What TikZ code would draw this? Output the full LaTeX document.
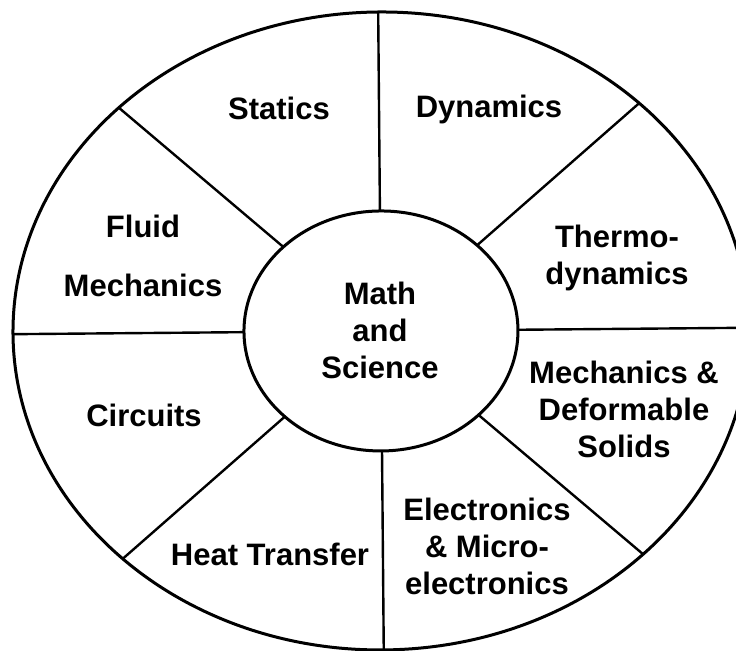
\documentclass[tikz,border=0pt]{standalone}
\usepackage{fontspec}
\setmainfont{Liberation Sans}
\usetikzlibrary{positioning}

\begin{document}
\begin{tikzpicture}[x=0.5pt, y=-0.5pt,
    field/.style={font=\fontsize{15.5}{18.5}\selectfont\bfseries, align=center, anchor=base, inner sep=0pt},
    spoke/.style={line width=1.2pt},
    rim/.style={line width=1.5pt}]
    \useasboundingbox (0,0) rectangle (736,651);
    \clip (0,0) rectangle (736,651);

    % Wheel (scan sits a little askew)
    \coordinate (hub) at (381,331);
    \begin{scope}[rotate around={0.5:(hub)}]
        \draw[rim] (hub) ellipse [x radius=368, y radius=319];
        \draw[rim] (hub) ellipse [x radius=137, y radius=120];
        \foreach \a in {0,45,...,315}
            \draw[spoke] ([shift={(\a:137 and 120)}]hub) -- ([shift={(\a:368 and 319)}]hub);
    \end{scope}

    % Centre (base = last line)
    \node[field] (core) at (380,379) {Math\\and\\Science};

    % Subjects
    \node[field] (statics) at (279,120) {Statics};
    \node[field] (dynamics) at (489,118) {Dynamics};
    \node[field, font=\fontsize{15.5}{29.5}\selectfont\bfseries] (fluid) at (143,297) {Fluid\\Mechanics};
    \node[field] (thermo) at (617,285) {Thermo-\\dynamics};
    \node[field] (solids) at (624,458) {Mechanics \&\\Deformable\\Solids};
    \node[field] (circuits) at (144,427) {Circuits};
    \node[field] (heat) at (270,566) {Heat Transfer};
    \node[field] (micro) at (487,595) {Electronics\\\& Micro-\\electronics};
\end{tikzpicture}
\end{document}
